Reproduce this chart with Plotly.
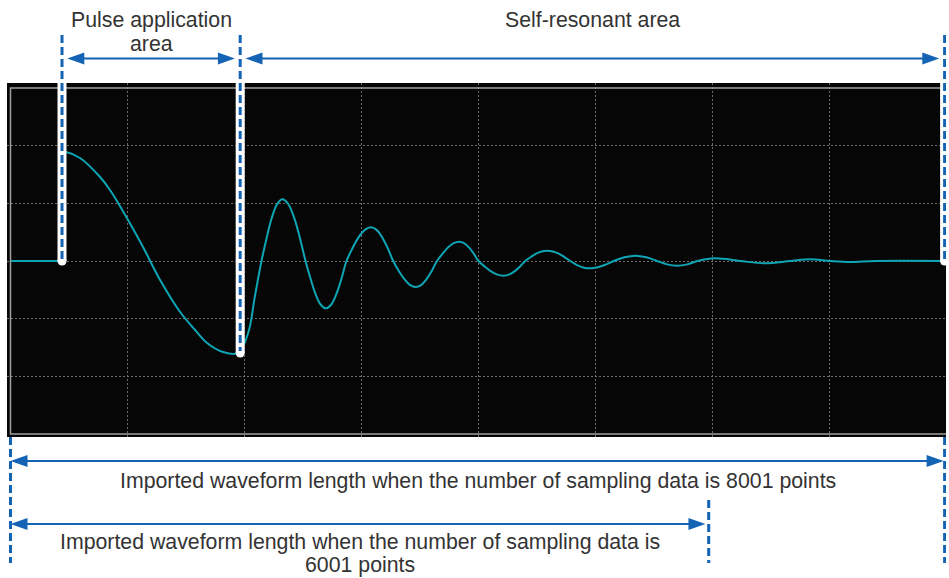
import plotly.graph_objects as go

W, H = 949, 578

# ---- waveform samples (time and amplitude in screen divisions) ----
pre_t = [0.0, 0.449, 0.449]
pre_v = [0.0, 0.0, 1.889]

wave_t = [0.449, 0.474, 0.594, 0.765, 0.850, 1.004, 1.132, 1.278, 1.449, 1.577, 1.679, 1.816, 1.944,
          2.030, 2.087, 2.144,
          2.189, 2.233, 2.278, 2.323, 2.372, 2.422, 2.471, 2.520,
          2.564, 2.607, 2.651, 2.694, 2.738, 2.782, 2.826, 2.870,
          2.922, 2.974, 3.027, 3.079, 3.127, 3.174, 3.222, 3.269,
          3.317, 3.366, 3.414, 3.462, 3.507, 3.552, 3.598, 3.643,
          3.691, 3.738, 3.786, 3.833, 3.874, 3.916, 3.957, 3.998,
          4.052, 4.105, 4.159, 4.212, 4.258, 4.305, 4.351, 4.397,
          4.444, 4.490, 4.537, 4.583, 4.633, 4.683, 4.732, 4.782,
          4.821, 4.860, 4.899, 4.938, 4.992, 5.045, 5.099, 5.152,
          5.245, 5.338, 5.431, 5.523, 5.609, 5.694, 5.781, 5.868,
          6.021, 6.235, 6.449, 6.662, 6.833, 7.004, 7.175, 7.389, 7.987]
wave_v = [1.889, 1.889, 1.785, 1.456, 1.231, 0.711, 0.243, -0.329, -0.884, -1.196, -1.421, -1.577, -1.594,
          -1.248, -0.619, 0.0,
          0.409, 0.756, 0.988, 1.069, 0.988, 0.756, 0.409, 0.0,
          -0.314, -0.580, -0.758, -0.820, -0.758, -0.580, -0.314, 0.0,
          0.224, 0.413, 0.540, 0.584, 0.540, 0.413, 0.224, 0.0,
          -0.173, -0.319, -0.417, -0.451, -0.417, -0.319, -0.173, 0.0,
          0.128, 0.236, 0.309, 0.334, 0.309, 0.236, 0.128, 0.0,
          -0.098, -0.180, -0.236, -0.255, -0.236, -0.180, -0.098, 0.0,
          0.069, 0.127, 0.165, 0.179, 0.165, 0.127, 0.069, 0.0,
          -0.049, -0.090, -0.117, -0.127, -0.117, -0.090, -0.049, 0.0,
          0.064, 0.092, 0.064, 0.0, -0.058, -0.081, -0.058, 0.0,
          0.047, 0.0, -0.040, 0.0, 0.029, 0.0, -0.017, 0.0, 0.0]

grid_x = [1, 2, 3, 4, 5, 6, 7]
grid_y = [-2, -1, 0, 1, 2]

# region markers (divisions) and the waveform level where each marker ends
pulse_start, pulse_start_level = 0.440, 0.0
pulse_end, pulse_end_level = 1.962, -1.594
end_8001, end_8001_level = 7.979, 0.0
end_6001 = 5.964

top_label_pulse = ["Pulse application", "area"]
top_label_self = "Self-resonant area"
label_8001 = "Imported waveform length when the number of sampling data is 8001 points"
label_6001 = ["Imported waveform length when the number of sampling data is", "6001 points"]

# ---- styling ----
BLUE = "#1463b4"
TEAL = "#0ea5b5"
TEXT = "#333333"
FONT = "Arial, Liberation Sans, sans-serif"
FSIZE = 21.3
XR = [-0.0299, 7.991]
YR = [-3.05, 3.085]
XDOM = [7 / W, 946 / W]
YDOM = [1 - 437 / H, 1 - 83 / H]


def yp(v):
    """data y -> paper y (for shapes that leave the plot area)"""
    return YDOM[0] + (v - YR[0]) / (YR[1] - YR[0]) * (YDOM[1] - YDOM[0])


def pp(py):
    """pixel row -> paper y"""
    return 1 - py / H


fig = go.Figure()
fig.add_trace(go.Scatter(x=pre_t, y=pre_v, mode="lines",
                         line=dict(color=TEAL, width=2), hoverinfo="skip"))
fig.add_trace(go.Scatter(x=wave_t, y=wave_v, mode="lines",
                         line=dict(color=TEAL, width=2, shape="spline", smoothing=1),
                         hoverinfo="skip"))

shapes = []
# grey frame of the scope grid
shapes.append(dict(type="rect", xref="x", yref="y", x0=0, x1=8, y0=-3, y1=3,
                   line=dict(color="#a0a0a0", width=1.5), layer="above"))

top_px = 35
marks = [(pulse_start, pulse_start_level), (pulse_end, pulse_end_level), (end_8001, end_8001_level)]
rx = 4.5 / 117
ry = 4.5 / H
for mx, lvl in marks:
    shapes.append(dict(type="line", xref="x", yref="paper", x0=mx, x1=mx,
                       y0=pp(83), y1=yp(lvl), line=dict(color="white", width=9)))
    shapes.append(dict(type="circle", xref="x", yref="paper", x0=mx - rx, x1=mx + rx,
                       y0=yp(lvl) - ry, y1=yp(lvl) + ry, fillcolor="white",
                       line=dict(width=0)))
for mx, lvl in marks:
    shapes.append(dict(type="line", xref="x", yref="paper", x0=mx, x1=mx,
                       y0=pp(top_px), y1=yp(lvl) + 2 / H,
                       line=dict(color=BLUE, width=3, dash="8px,4px")))

# bottom dashed markers
for mx, ytop in [(0.0, 437), (end_8001, 437), (end_6001, 500)]:
    shapes.append(dict(type="line", xref="x", yref="paper", x0=mx, x1=mx,
                       y0=pp(ytop), y1=pp(563),
                       line=dict(color=BLUE, width=3, dash="8px,4px")))

AL = 17 / 117
AH = 6 / H


def arrow(xl, xr, y):
    shapes.append(dict(type="line", xref="x", yref="paper", x0=xl + AL * 0.6, x1=xr - AL * 0.6,
                       y0=y, y1=y, line=dict(color=BLUE, width=2)))
    shapes.append(dict(type="path", xref="x", yref="paper",
                       path=f"M{xl},{y} L{xl + AL},{y + AH} L{xl + AL},{y - AH} Z",
                       fillcolor=BLUE, line=dict(width=0)))
    shapes.append(dict(type="path", xref="x", yref="paper",
                       path=f"M{xr},{y} L{xr - AL},{y + AH} L{xr - AL},{y - AH} Z",
                       fillcolor=BLUE, line=dict(width=0)))


gap = 0.045
arrow(pulse_start + gap, pulse_end - gap, pp(58.5))
arrow(pulse_end + gap, end_8001 - gap, pp(58.5))
arrow(0.0, end_8001 - 0.008, pp(461))
arrow(0.0, end_6001 - 0.028, pp(524))

ann = []


def label(text, x, py):
    ann.append(dict(text=text, x=x, y=pp(py), xref="x", yref="paper", showarrow=False,
                    xanchor="center", yanchor="middle",
                    font=dict(family=FONT, size=FSIZE, color=TEXT)))


label(top_label_pulse[0], (pulse_start + pulse_end) / 2, 19.7)
label(top_label_pulse[1], (pulse_start + pulse_end) / 2, 43.7)
label(top_label_self, (pulse_end + end_8001) / 2, 19.7)
label(label_8001, end_8001 / 2, 480.7)
label(label_6001[0], end_6001 / 2, 541.7)
label(label_6001[1], end_6001 / 2, 564.7)

fig.update_layout(
    width=W, height=H,
    margin=dict(l=0, r=0, t=0, b=0),
    paper_bgcolor="white",
    plot_bgcolor="#060606",
    showlegend=False,
    shapes=shapes,
    annotations=ann,
    xaxis=dict(domain=XDOM, range=XR, tickvals=grid_x, showticklabels=False, ticks="",
               showgrid=True, gridcolor="#6c6c6c", griddash="2px,2px", gridwidth=1,
               zeroline=False, showline=False, fixedrange=True),
    yaxis=dict(domain=YDOM, range=YR, tickvals=grid_y, showticklabels=False, ticks="",
               showgrid=True, gridcolor="#6c6c6c", griddash="2px,2px", gridwidth=1,
               zeroline=False, showline=False, fixedrange=True),
)

fig.write_html("out.html", config={"displayModeBar": False},
               post_script="document.body.style.margin='0';document.body.style.padding='0';")
